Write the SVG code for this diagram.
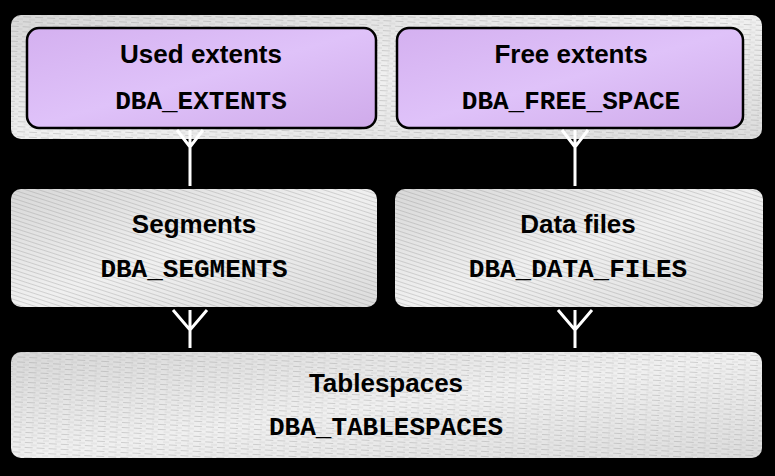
<svg xmlns="http://www.w3.org/2000/svg" width="775" height="476" viewBox="0 0 775 476">
  <style>
    .title { font-family: "Liberation Sans", Arial, sans-serif; font-weight: bold; font-size: 26px; fill: #000; text-anchor: middle; }
    .code { font-family: "Liberation Mono", "Courier New", monospace; font-weight: bold; font-size: 26px; fill: #000; text-anchor: middle; }
    .gray { fill: url(#grayGrad); }
    .purple { fill: url(#purpleGrad); stroke: #000; stroke-width: 2.5; }
    .conn { fill: none; stroke: #fff; stroke-width: 3; stroke-linecap: butt; stroke-linejoin: miter; }
  </style>
  <defs>
    <linearGradient id="grayGrad" x1="0" y1="0" x2="1" y2="1">
      <stop offset="0" stop-color="#d8d8d8"/>
      <stop offset="0.5" stop-color="#f0f0f0"/>
      <stop offset="1" stop-color="#dcdcdc"/>
    </linearGradient>
    <linearGradient id="purpleGrad" x1="0" y1="0" x2="1" y2="1">
      <stop offset="0" stop-color="#d4b0f0"/>
      <stop offset="0.5" stop-color="#dfc2f9"/>
      <stop offset="1" stop-color="#cfaaea"/>
    </linearGradient>
    <pattern id="hatchDiag" width="8" height="4" patternUnits="userSpaceOnUse" patternTransform="rotate(18)">
      <line x1="0" y1="0.5" x2="8" y2="0.5" stroke="#8a8a8a" stroke-opacity="0.3" stroke-width="1"/>
    </pattern>
    <pattern id="hatchH" width="12" height="5" patternUnits="userSpaceOnUse" patternTransform="rotate(3)">
      <line x1="0" y1="0.5" x2="8" y2="0.5" stroke="#8a8a8a" stroke-opacity="0.32" stroke-width="1"/>
      <line x1="6" y1="3" x2="12" y2="3" stroke="#8a8a8a" stroke-opacity="0.2" stroke-width="1"/>
    </pattern>
  </defs>
  <rect x="0" y="0" width="775" height="476" fill="#000"/>

  <g id="extents-container">
    <rect class="gray" x="11" y="15" width="751" height="124" rx="10"/>
    <rect x="11" y="15" width="751" height="124" rx="10" fill="url(#hatchH)"/>
  </g>

  <g id="used-extents">
    <rect class="purple" x="27" y="28" width="349" height="100" rx="12"/>
    <text class="title" x="201" y="63">Used extents</text>
    <text class="code" x="201" y="109">DBA_EXTENTS</text>
  </g>

  <g id="free-extents">
    <rect class="purple" x="397" y="28" width="346" height="100" rx="12"/>
    <text class="title" x="571" y="63">Free extents</text>
    <text class="code" x="571" y="109">DBA_FREE_SPACE</text>
  </g>

  <g id="segments">
    <rect class="gray" x="11" y="189" width="366" height="118" rx="10"/>
    <rect x="11" y="189" width="366" height="118" rx="10" fill="url(#hatchDiag)"/>
    <text class="title" x="194" y="233">Segments</text>
    <text class="code" x="194" y="277">DBA_SEGMENTS</text>
  </g>

  <g id="data-files">
    <rect class="gray" x="395" y="189" width="368" height="118" rx="10"/>
    <rect x="395" y="189" width="368" height="118" rx="10" fill="url(#hatchDiag)"/>
    <text class="title" x="578" y="233">Data files</text>
    <text class="code" x="578" y="277">DBA_DATA_FILES</text>
  </g>

  <g id="tablespaces">
    <rect class="gray" x="11" y="352" width="751" height="106" rx="10"/>
    <rect x="11" y="352" width="751" height="106" rx="10" fill="url(#hatchH)"/>
    <text class="title" x="386" y="392">Tablespaces</text>
    <text class="code" x="386" y="435">DBA_TABLESPACES</text>
  </g>

  <g id="connectors">
    <path class="conn" d="M190,130 V186 M177,130 L190,147 L203,130"/>
    <path class="conn" d="M575,130 V186 M562,130 L575,147 L588,130"/>
    <path class="conn" d="M190,310 V348 M173,310 L190,330 L207,310"/>
    <path class="conn" d="M575,310 V348 M558,310 L575,330 L592,310"/>
  </g>
</svg>
